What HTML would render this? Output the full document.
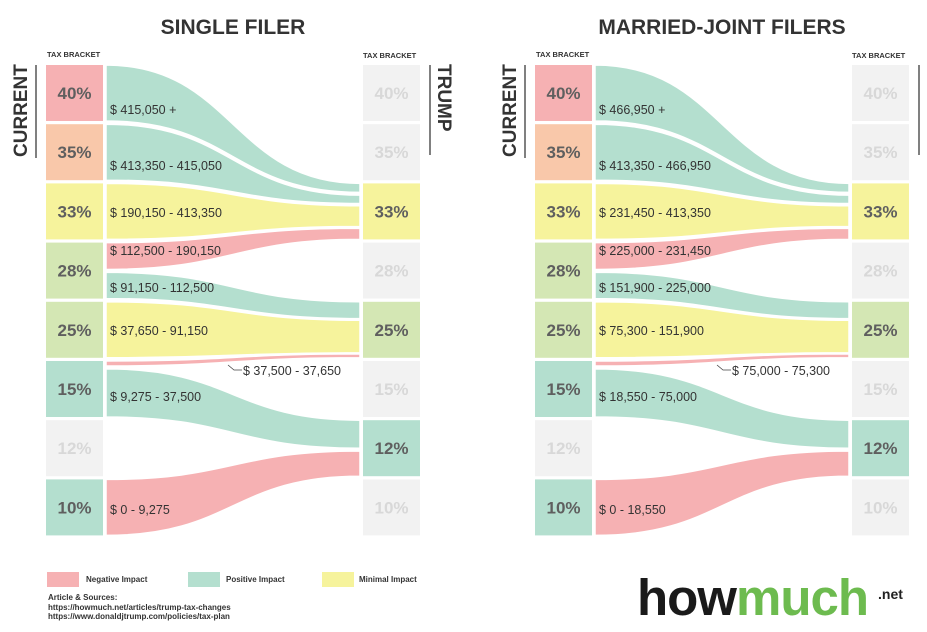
<!DOCTYPE html>
<html><head><meta charset="utf-8">
<style>
body{margin:0;background:#fff;width:927px;height:627px;overflow:hidden;font-family:"Liberation Sans",sans-serif}
svg text{font-family:"Liberation Sans",sans-serif}
.lg{position:absolute;font-size:8px;font-weight:bold;color:#333;white-space:nowrap}
</style></head>
<body>
<svg id="chart" width="927" height="627" viewBox="0 0 927 627">
<g id="root"></g>
</svg>
<script>
// ---- data ----
const rates = ["40%","35%","33%","28%","25%","15%","12%","10%"];
const currentColors = ["#f6b1b3","#f9c8aa","#f6f39c","#d4e7b4","#d4e7b4","#b4dfcf","#f2f2f2","#b4dfcf"];
const currentActive = [1,1,1,1,1,1,0,1];
const trumpColors = ["#f2f2f2","#f2f2f2","#f6f39c","#f2f2f2","#d4e7b4","#f2f2f2","#b4dfcf","#f2f2f2"];
const trumpActive = [0,0,1,0,1,0,1,0];
// flows: source row, source top/bottom fraction, target row, target top/bottom fraction, impact
const flowSrcRow = [0,1,2,3,3,4,5,5,7];
const flowSrcTop = [0,0,0,0,0.53,0,0,0.14,0];
const flowSrcBot = [1,1,1,0.48,1,1,0.09,1,1];
const flowTgtRow = [2,2,2,2,4,4,4,6,6];
const flowTgtTop = [0,0.21,0.4,0.8,0,0.33,0.93,0,0.55];
const flowTgtBot = [0.16,0.36,0.77,1,0.3,0.91,1,0.5,1];
const flowImpact = ["pos","pos","min","neg","pos","min","neg","pos","neg"];
const singleLabels = ["$ 415,050 +","$ 413,350 - 415,050","$ 190,150 - 413,350","$ 112,500 - 190,150","$ 91,150 - 112,500","$ 37,650 - 91,150","$ 37,500 -  37,650","$ 9,275 - 37,500","$ 0 - 9,275"];
const marriedLabels = ["$ 466,950 +","$ 413,350 - 466,950","$ 231,450 - 413,350","$ 225,000 - 231,450","$ 151,900 - 225,000","$ 75,300 - 151,900","$ 75,000 -  75,300","$ 18,550 - 75,000","$ 0 - 18,550"];
const labelY = [114,170,217,255,292,335,371,401,514];

const impactColor = {neg:"#f6b1b3",pos:"#b4dfcf",min:"#f6f39c"};
const NS="http://www.w3.org/2000/svg";
const root=document.getElementById('root');
function mk(tag,attrs,parent,txt){const e=document.createElementNS(NS,tag);for(const k in attrs)e.setAttribute(k,attrs[k]);if(txt!==undefined)e.textContent=txt;(parent||root).appendChild(e);return e;}
const rowTop=i=>65+i*59.2, rowH=56;
const yPos=(row,f)=>rowTop(row)+f*rowH;

function panel(x0,title,labels,name){
  const g=mk('g',{});
  
  
  const t=mk('text',{x:x0+187,y:34,'text-anchor':'middle','font-size':21,'font-weight':'bold',fill:'#333'},g,title);
  
  
  mk('text',{x:x0+1,y:57,'font-size':7.5,'font-weight':'bold',fill:'#333'},g,'TAX BRACKET');
  mk('text',{x:x0+317,y:58,'font-size':7.5,'font-weight':'bold',fill:'#333'},g,'TAX BRACKET');
  const lx=x0, rx=x0+317, bw=57;
  const fx0=x0+60, fx1=x0+314;
  for(let i=0;i<rates.length;i++){
    const c=mk('rect',{x:lx,y:rowTop(i),width:bw,height:rowH,fill:currentColors[i]},g);
    
    
    mk('text',{x:lx+bw/2,y:rowTop(i)+34,'text-anchor':'middle','font-size':17,'font-weight':'bold',fill:currentActive[i]?'#5f5f5f':'#d8d8d8'},g,rates[i]);
    const r=mk('rect',{x:rx,y:rowTop(i),width:bw,height:rowH,fill:trumpColors[i]},g);
    
    
    mk('text',{x:rx+bw/2,y:rowTop(i)+34,'text-anchor':'middle','font-size':17,'font-weight':'bold',fill:trumpActive[i]?'#5f5f5f':'#d8d8d8'},g,rates[i]);
  }
  for(let k=0;k<flowSrcRow.length;k++){
    const s0=yPos(flowSrcRow[k],flowSrcTop[k]), s1=yPos(flowSrcRow[k],flowSrcBot[k]);
    const t0=yPos(flowTgtRow[k],flowTgtTop[k]), t1=yPos(flowTgtRow[k],flowTgtBot[k]);
    const mx=(fx0+fx1)/2;
    const d=`M${fx0},${s0} C${mx},${s0} ${mx},${t0} ${fx1},${t0} L${fx1},${t1} C${mx},${t1} ${mx},${s1} ${fx0},${s1} Z`;
    const p=mk('path',{d:d,fill:impactColor[flowImpact[k]],stroke:'#fff','stroke-width':1.5},g);
    
    
    if(k===6){
      mk('path',{d:`M${x0+182},${labelY[k]-6} L${x0+188},${labelY[k]-1} L${x0+196},${labelY[k]-1}`,fill:'none',stroke:'#444','stroke-width':0.8},g);
      mk('text',{x:x0+197,y:labelY[k]+4,'font-size':12.5,fill:'#333'},g,labels[k]);
    } else {
      mk('text',{x:fx0+4,y:labelY[k],'font-size':12.5,fill:'#333'},g,labels[k]);
    }
  }
}
panel(46,'SINGLE FILER',singleLabels,'single-filer-panel');
panel(535,'MARRIED-JOINT FILERS',marriedLabels,'married-joint-panel');

[[0,'CURRENT'],[489,'CURRENT']].forEach(([dx,s])=>{
  mk('text',{transform:`translate(${dx+27},157) rotate(-90)`,'font-size':19,'font-weight':'bold',fill:'#333'},root,s);
  mk('line',{x1:dx+36,y1:65,x2:dx+36,y2:158,stroke:'#555','stroke-width':1.5});
});
[[0],[489]].forEach(([dx])=>{
  mk('text',{transform:`translate(${dx+438},64) rotate(90)`,'font-size':19,'font-weight':'bold',fill:'#333'},root,'TRUMP');
  mk('line',{x1:dx+430,y1:65,x2:dx+430,y2:155,stroke:'#555','stroke-width':1.5});
});
</script>
<div style="position:absolute;left:0;top:0">
  <div style="position:absolute;left:47px;top:572px;width:32px;height:15px;background:#f6b1b3"></div>
  <div class="lg" style="left:86px;top:575px">Negative Impact</div>
  <div style="position:absolute;left:188px;top:572px;width:32px;height:15px;background:#b4dfcf"></div>
  <div class="lg" style="left:226px;top:575px">Positive Impact</div>
  <div style="position:absolute;left:322px;top:572px;width:32px;height:15px;background:#f6f39c"></div>
  <div class="lg" style="left:359px;top:575px">Minimal Impact</div>
</div>
<div class="lg" style="left:48px;top:593px;line-height:9.7px">Article &amp; Sources:<br>https://howmuch.net/articles/trump-tax-changes<br>https://www.donaldjtrump.com/policies/tax-plan</div>
<div style="position:absolute;left:637px;top:568px;font-size:51px;font-weight:bold;letter-spacing:-1px;line-height:60px;white-space:nowrap"><span style="color:#1a1a1a">how</span><span style="color:#6dbb4f">much</span></div>
<div style="position:absolute;left:878px;top:586px;font-size:14px;font-weight:bold;color:#222">.net</div>
</body></html>
